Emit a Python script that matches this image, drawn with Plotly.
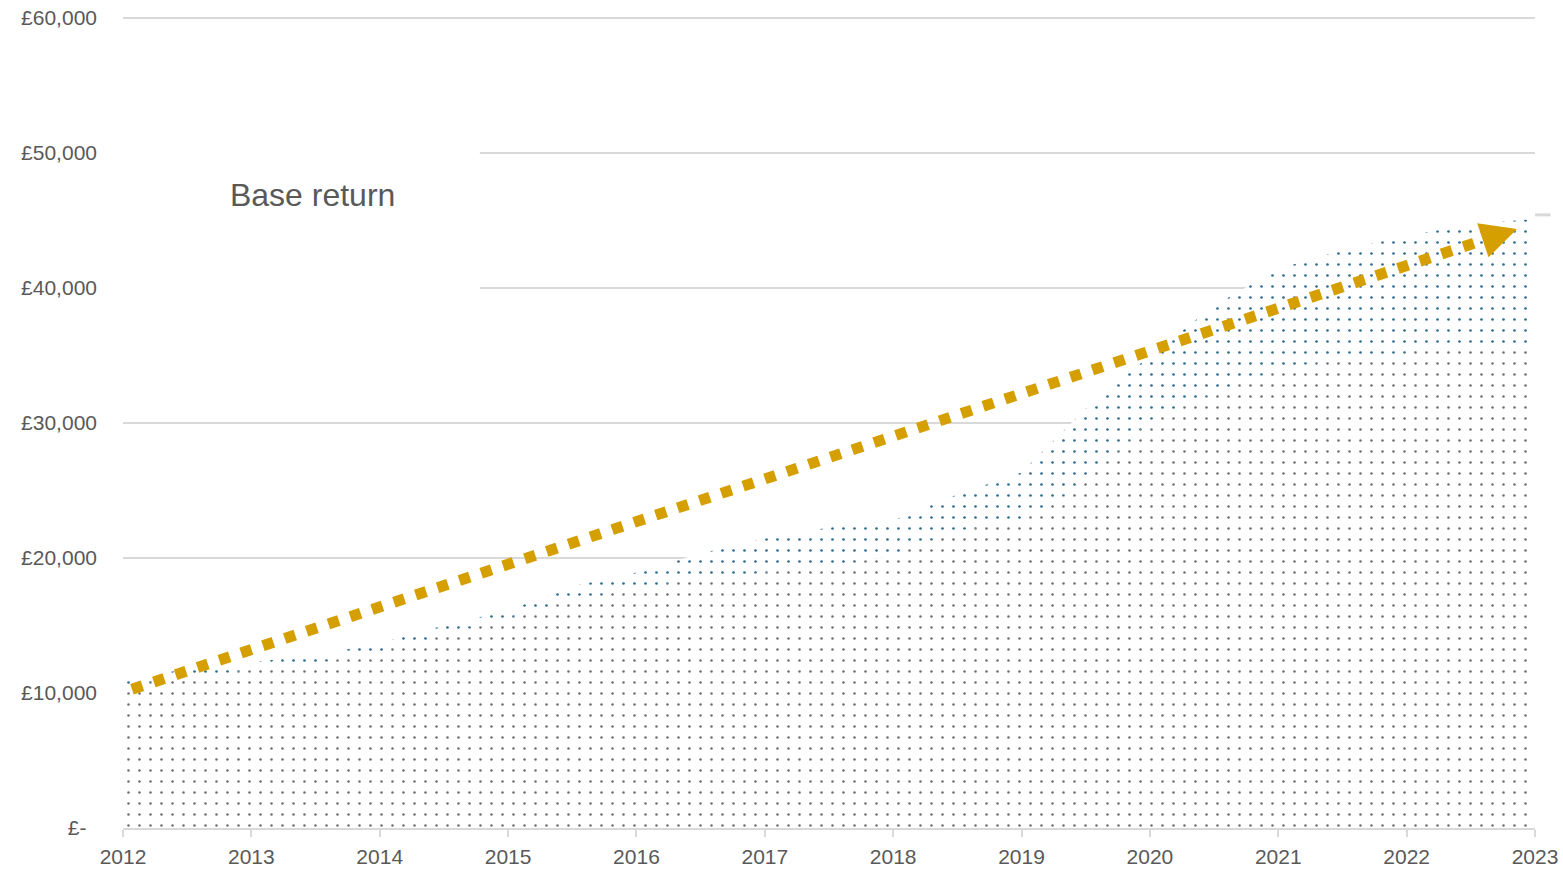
import numpy as np
import plotly.graph_objects as go

# ---- data ----
years = [2012.0, 2012.5, 2013.0, 2013.5, 2014.0, 2014.5, 2015.0, 2015.5,
         2016.0, 2016.5, 2017.0, 2017.5, 2018.0, 2018.5, 2019.0, 2019.5,
         2020.0, 2020.5, 2021.0, 2021.5, 2022.0, 2022.5, 2023.0]
base_return = [10350, 11320, 11690, 12200, 13020, 14270, 15530, 16860,
               17750, 18490, 18930, 19380, 20190, 22040, 22630, 25590,
               30180, 32170, 34020, 34760, 35210, 35650, 35870]
extra_return = [450, 520, 590, 590, 670, 740, 590, 1040,
                1180, 1850, 2510, 2880, 2590, 2660, 3700, 5470,
                4810, 6510, 7400, 8060, 8650, 9100, 9250]

tick_years = [2012, 2013, 2014, 2015, 2016, 2017, 2018, 2019, 2020, 2021, 2022, 2023]
tick_labels = [str(y) for y in tick_years]
y_ticks = [0, 10000, 20000, 30000, 40000, 50000, 60000]
y_labels = ["£-\u2002", "£10,000", "£20,000", "£30,000", "£40,000", "£50,000", "£60,000"]

trend_x = [2012.07, 2022.86]
trend_y = [10280, 44380]

GOLD = "#D59F00"
GRID = "#D9D9D9"
TEXT = "#595959"
FONT = "Liberation Sans, Arial, sans-serif"

fig = go.Figure()

fig.add_trace(go.Scatter(
    x=years, y=base_return, name="Base return", stackgroup="s",
    mode="none", fillcolor="white",
    fillpattern=dict(shape=".", fgcolor="#707070", bgcolor="white",
                     size=11, solidity=0.042, fillmode="replace"),
    showlegend=True, hoverinfo="skip",
))
fig.add_trace(go.Scatter(
    x=years, y=extra_return, name="Additional return", stackgroup="s",
    mode="none", fillcolor="white",
    fillpattern=dict(shape=".", fgcolor="#2C6B8C", bgcolor="white",
                     size=11, solidity=0.045, fillmode="replace"),
    showlegend=False, hoverinfo="skip",
))

# dotted trend line, ending at the arrow head's base
t_end = 0.976
tx = np.array(trend_x)
ty = np.array(trend_y)
line_x = [tx[0], tx[0] + t_end * (tx[1] - tx[0])]
line_y = [ty[0], ty[0] + t_end * (ty[1] - ty[0])]
fig.add_trace(go.Scatter(
    x=line_x, y=line_y, mode="lines",
    line=dict(color=GOLD, width=11, dash="11px,12px"),
    showlegend=False, hoverinfo="skip",
))

t_tail = 0.982
fig.add_annotation(
    x=tx[1], y=ty[1], xref="x", yref="y",
    ax=tx[0] + t_tail * (tx[1] - tx[0]), ay=ty[0] + t_tail * (ty[1] - ty[0]),
    axref="x", ayref="y", text="", showarrow=True,
    arrowhead=2, arrowsize=2.4, arrowwidth=3, arrowcolor=GOLD,
)

# white box behind the legend (covers grid lines)
fig.add_shape(type="rect", xref="x", yref="y", x0=2012, x1=2014.78,
              y0=38500, y1=51500, fillcolor="white", line=dict(width=0),
              layer="between")
# small grey stub to the right of the plot
fig.add_shape(type="line", xref="paper", yref="paper", x0=1.0, x1=1.011,
              y0=0.756, y1=0.756, line=dict(color=GRID, width=3))

fig.update_layout(
    width=1563, height=879,
    margin=dict(l=123, r=28, t=17, b=51, autoexpand=False),
    paper_bgcolor="white", plot_bgcolor="white",
    font=dict(family=FONT, size=21, color=TEXT),
    legend=dict(x=0.0474, y=0.782, xanchor="left", yanchor="middle",
                font=dict(size=32, color=TEXT, family=FONT),
                bgcolor="rgba(0,0,0,0)", borderwidth=0),
    xaxis=dict(range=[2012, 2023], tickvals=tick_years, ticktext=tick_labels,
               showgrid=False, zeroline=False, showline=True, linecolor=GRID,
               linewidth=2, ticks="outside", ticklen=7, tickwidth=2, tickcolor=GRID,
               tickfont=dict(size=21, color=TEXT), ticklabelstandoff=2,
               automargin=False),
    yaxis=dict(range=[0, 60080], tickvals=y_ticks, ticktext=y_labels,
               showgrid=True, gridcolor=GRID, gridwidth=2, zeroline=False,
               showline=False, ticks="", tickfont=dict(size=21, color=TEXT),
               ticklabelstandoff=25, automargin=False),
)

fig.write_html("out.html")
